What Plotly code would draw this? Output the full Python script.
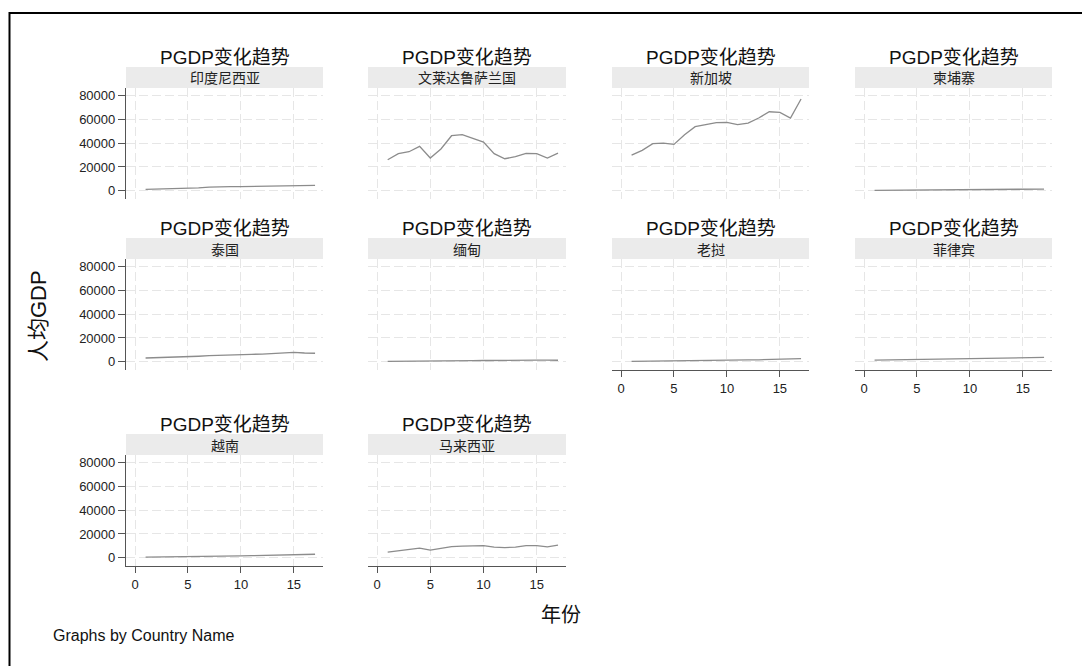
import plotly.graph_objects as go

W, H = 1082, 666

countries = ["印度尼西亚", "文莱达鲁萨兰国", "新加坡", "柬埔寨",
             "泰国", "缅甸", "老挝", "菲律宾",
             "越南", "马来西亚"]
years = list(range(1, 18))

indonesia = [1100, 1300, 1500, 1700, 2000, 2400, 3000, 3400, 3500, 3400, 3500, 3700, 3900, 4000, 4100, 3900, 4400]
brunei = [26100, 31200, 32800, 37300, 27500, 35100, 46300, 47200, 44100, 41000, 31200, 26900, 28600, 31400, 31200, 27500, 31700]
singapore = [30000, 34000, 39600, 40100, 39000, 47200, 53900, 55900, 57300, 57500, 55600, 57000, 61200, 66500, 66000, 61200, 77200]
cambodia = [300, 350, 400, 450, 500, 550, 650, 750, 800, 850, 950, 1050, 1150, 1250, 1300, 1350, 1400]
thailand = [3100, 3300, 3600, 3900, 4200, 4600, 5100, 5500, 5900, 6100, 6200, 6400, 6800, 7400, 7900, 7300, 7100]
myanmar = [200, 220, 250, 300, 350, 450, 550, 700, 850, 1000, 1150, 1200, 1250, 1300, 1350, 1250, 1200]
laos = [300, 350, 400, 450, 500, 600, 700, 850, 950, 1050, 1250, 1450, 1600, 1850, 2050, 2300, 2600]
philippines = [1400, 1500, 1600, 1700, 1800, 2000, 2200, 2400, 2500, 2600, 2800, 2950, 3100, 3200, 3300, 3400, 3600]
vietnam = [500, 550, 600, 700, 800, 900, 1000, 1200, 1400, 1500, 1700, 1900, 2100, 2300, 2500, 2700, 2900]
malaysia = [4600, 5700, 6800, 8000, 6300, 8000, 9400, 9700, 9700, 10200, 8850, 8500, 8850, 10200, 10200, 9100, 10550]

series = [indonesia, brunei, singapore, cambodia, thailand, myanmar, laos, philippines, vietnam, malaysia]

panel_title = "PGDP变化趋势"
y_title = "人均GDP"
x_title = "年份"
note = "Graphs by Country Name"
x_ticks = [0, 5, 10, 15]
y_ticks = [0, 20000, 40000, 60000, 80000]

cols_x = [(126, 323), (368, 566), (612, 809), (855, 1052)]
rows_y = [(88, 199), (259, 370), (455, 566)]
STRIP_H = 21

FONT = "Liberation Sans, Arial, Noto Sans CJK SC, sans-serif"
CJK = "Noto Sans CJK SC, Liberation Sans, sans-serif"

fig = go.Figure()
shapes = []
annotations = []
layout = {}

x_axis_panels = {6, 7, 8, 9}

for i, (name, vals) in enumerate(zip(countries, series)):
    r, c = divmod(i, 4)
    x0, x1 = cols_x[c]
    y0, y1 = rows_y[r]
    k = i + 1
    sfx = "" if k == 1 else str(k)
    show_x = i in x_axis_panels
    show_y = c == 0
    layout["xaxis" + sfx] = dict(
        domain=[x0 / W, x1 / W], anchor="y" + sfx,
        range=[-0.85, 17.75], tickvals=x_ticks,
        showgrid=True, gridcolor="#e6e6e6", gridwidth=1, griddash="9px,4px",
        zeroline=False,
        showline=show_x, linecolor="#555", linewidth=1.2,
        ticks="outside" if show_x else "", ticklen=6, tickcolor="#555", tickwidth=1,
        showticklabels=show_x,
        tickfont=dict(family=FONT, size=13, color="#222"),
        fixedrange=True,
    )
    layout["yaxis" + sfx] = dict(
        domain=[1 - y1 / H, 1 - y0 / H], anchor="x" + sfx,
        range=[-7000, 86500], tickvals=y_ticks, tickformat="d",
        showgrid=True, gridcolor="#e6e6e6", gridwidth=1, griddash="9px,4px",
        zeroline=False,
        showline=show_y, linecolor="#555", linewidth=1.2,
        ticks="outside" if show_y else "", ticklen=7, tickcolor="#555", tickwidth=1,
        showticklabels=show_y,
        tickfont=dict(family=FONT, size=13, color="#222"),
        fixedrange=True,
    )
    fig.add_trace(go.Scatter(
        x=years, y=vals, mode="lines",
        line=dict(color="#8c8c8c", width=1.3),
        xaxis="x" + sfx, yaxis="y" + sfx,
        showlegend=False, hoverinfo="skip",
    ))
    shapes.append(dict(
        type="rect", xref="paper", yref="paper",
        x0=x0 / W, x1=x1 / W, y0=1 - y0 / H, y1=1 - (y0 - STRIP_H) / H,
        fillcolor="#ebebeb", line=dict(width=0), layer="below",
    ))
    annotations.append(dict(
        text=name, xref="paper", yref="paper",
        x=(x0 + x1) / 2 / W, y=1 - (y0 - STRIP_H / 2) / H,
        xanchor="center", yanchor="middle", showarrow=False,
        font=dict(family=CJK, size=14, color="#222"),
    ))
    annotations.append(dict(
        text=panel_title, xref="paper", yref="paper",
        x=(x0 + x1) / 2 / W, y=1 - (y0 - STRIP_H - 10) / H,
        xanchor="center", yanchor="middle", showarrow=False,
        font=dict(family=FONT, size=19, color="#111"),
    ))

annotations.append(dict(
    text=y_title, xref="paper", yref="paper", x=38 / W, y=1 - 316 / H,
    xanchor="center", yanchor="middle", showarrow=False, textangle=-90,
    font=dict(family=FONT, size=22, color="#111"),
))
annotations.append(dict(
    text=x_title, xref="paper", yref="paper", x=561 / W, y=1 - 613 / H,
    xanchor="center", yanchor="middle", showarrow=False,
    font=dict(family=CJK, size=20, color="#111"),
))
annotations.append(dict(
    text=note, xref="paper", yref="paper", x=51 / W, y=1 - 635 / H,
    xanchor="left", yanchor="middle", showarrow=False,
    font=dict(family=FONT, size=16, color="#111"),
))

shapes.append(dict(
    type="rect", xref="paper", yref="paper",
    x0=9.5 / W, x1=1.05, y0=-0.05, y1=1 - 13 / H,
    line=dict(color="#000", width=2), fillcolor="rgba(0,0,0,0)", layer="above",
))

fig.update_layout(
    width=W, height=H, margin=dict(l=0, r=0, t=0, b=0),
    paper_bgcolor="white", plot_bgcolor="white",
    shapes=shapes, annotations=annotations, showlegend=False,
    **layout,
)

fig.write_html(
    "out.html",
    config={"displayModeBar": False},
    post_script="document.body.style.margin='0';document.body.style.overflow='hidden';",
)
